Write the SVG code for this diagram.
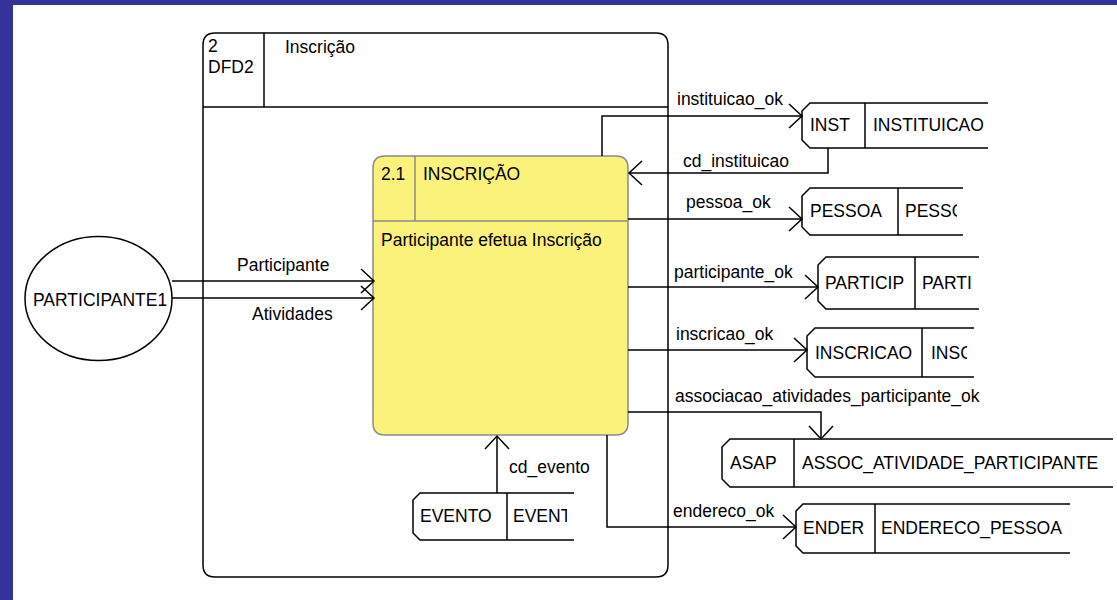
<svg xmlns="http://www.w3.org/2000/svg" width="1117" height="600" viewBox="0 0 1117 600">
<style>
text{font-family:"Liberation Sans",Arial,sans-serif;font-size:17.5px;fill:#000}
.ln{fill:none;stroke:#000;stroke-width:1.5}
.st{fill:none;stroke:#000;stroke-width:1.5}
</style>
<defs>
<marker id="arr" markerUnits="userSpaceOnUse" markerWidth="16" markerHeight="28" viewBox="-1 -1 16 28" refX="13" refY="12" orient="auto">
<path d="M0,0 L13,12 L0,24" fill="none" stroke="#000" stroke-width="1.5"/>
</marker>
<clipPath id="cPes"><rect x="890" y="180" width="67" height="60"/></clipPath>
<clipPath id="cPar"><rect x="910" y="250" width="61" height="65"/></clipPath>
<clipPath id="cIns"><rect x="920" y="320" width="47" height="60"/></clipPath>
<clipPath id="cEve"><rect x="505" y="488" width="62" height="55"/></clipPath>
</defs>
<rect x="0" y="0" width="1117" height="600" fill="#fff"/>
<rect x="0" y="0" width="1117" height="5" fill="#333399"/>
<rect x="0" y="0" width="13" height="600" fill="#333399"/>

<g id="frame-dfd2">
<path class="ln" d="M215,33 L656,33 Q668,33 668,45 L668,565 Q668,577 656,577 L215,577 Q203,577 203,565 L203,45 Q203,33 215,33 Z"/>
<line class="ln" x1="264" y1="33" x2="264" y2="107"/>
<line class="ln" x1="203" y1="107" x2="668" y2="107"/>
<text x="208" y="52">2</text>
<text x="208" y="73">DFD2</text>
<text x="285" y="53">Inscrição</text>
</g>

<g id="participante1">
<ellipse cx="98.5" cy="298.5" rx="73.5" ry="62" fill="#fff" stroke="#000" stroke-width="1.5"/>
<text x="33" y="306">PARTICIPANTE1</text>
</g>

<g id="proc-2-1">
<path d="M385,156 L616,156 Q628,156 628,168 L628,423 Q628,435 616,435 L385,435 Q373,435 373,423 L373,168 Q373,156 385,156 Z" fill="#FAF27A" stroke="#8a8a8a" stroke-width="1.5"/>
<line x1="415" y1="156" x2="415" y2="221" stroke="#8a8a8a" stroke-width="1.5"/>
<line x1="373" y1="221" x2="628" y2="221" stroke="#8a8a8a" stroke-width="1.5"/>
<text x="381" y="180">2.1</text>
<text x="423" y="180">INSCRIÇÃO</text>
<text x="381" y="246">Participante efetua Inscrição</text>
</g>

<g id="store-inst">
<path class="st" d="M988,103 L810,103 L802,111 L802,140 L810,148 L988,148"/>
<line class="st" x1="865" y1="103" x2="865" y2="148"/>
<text x="810" y="131">INST</text>
<text x="873" y="131">INSTITUICAO</text>
</g>

<g id="store-pessoa">
<path class="st" d="M963,188 L810,188 L802,196 L802,227 L810,235 L963,235"/>
<line class="st" x1="898" y1="188" x2="898" y2="235"/>
<text x="810" y="217">PESSOA</text>
<text x="905" y="217" clip-path="url(#cPes)">PESSOA</text>
</g>

<g id="store-particip">
<path class="st" d="M979,257 L826,257 L818,265 L818,301 L826,309 L979,309"/>
<line class="st" x1="915" y1="257" x2="915" y2="309"/>
<text x="825" y="289">PARTICIP</text>
<text x="922" y="289" clip-path="url(#cPar)">PARTICIPANTE</text>
</g>

<g id="store-inscricao">
<path class="st" d="M974,328 L815,328 L807,336 L807,369 L815,377 L974,377"/>
<line class="st" x1="922" y1="328" x2="922" y2="377"/>
<text x="815" y="359">INSCRICAO</text>
<text x="931" y="359" clip-path="url(#cIns)">INSCRICAO</text>
</g>

<g id="store-asap">
<path class="st" d="M1113,439 L730,439 L722,447 L722,479 L730,487 L1113,487"/>
<line class="st" x1="794" y1="439" x2="794" y2="487"/>
<text x="730" y="469">ASAP</text>
<text x="802" y="469">ASSOC_ATIVIDADE_PARTICIPANTE</text>
</g>

<g id="store-evento">
<path class="st" d="M574,493 L420,493 L413,500 L413,533 L420,540 L574,540"/>
<line class="st" x1="507" y1="493" x2="507" y2="540"/>
<text x="420" y="522">EVENTO</text>
<text x="513" y="522" clip-path="url(#cEve)">EVENTO</text>
</g>

<g id="store-ender">
<path class="st" d="M1070,504 L803,504 L796,511 L796,546 L803,553 L1070,553"/>
<line class="st" x1="875" y1="504" x2="875" y2="553"/>
<text x="803" y="534">ENDER</text>
<text x="881" y="534">ENDERECO_PESSOA</text>
</g>

<g id="connectors">
<polyline class="ln" points="172,281 374,281" marker-end="url(#arr)"/>
<polyline class="ln" points="172,298 374,298" marker-end="url(#arr)"/>
<polyline class="ln" points="602,156 602,116 802,116" marker-end="url(#arr)"/>
<polyline class="ln" points="828,148 828,173 629,173" marker-end="url(#arr)"/>
<polyline class="ln" points="628,219 802,219" marker-end="url(#arr)"/>
<polyline class="ln" points="628,287 818,287" marker-end="url(#arr)"/>
<polyline class="ln" points="628,350 807,350" marker-end="url(#arr)"/>
<polyline class="ln" points="628,412 821,412 821,439" marker-end="url(#arr)"/>
<polyline class="ln" points="607,435 607,527 796,527" marker-end="url(#arr)"/>
<polyline class="ln" points="497,493 497,436" marker-end="url(#arr)"/>
<text x="237" y="271">Participante</text>
<text x="252" y="320">Atividades</text>
<text x="677" y="105">instituicao_ok</text>
<text x="683" y="167">cd_instituicao</text>
<text x="686" y="208">pessoa_ok</text>
<text x="674" y="278">participante_ok</text>
<text x="676" y="340">inscricao_ok</text>
<text x="675" y="402">associacao_atividades_participante_ok</text>
<text x="509" y="473">cd_evento</text>
<text x="673" y="517">endereco_ok</text>
</g>
</svg>
